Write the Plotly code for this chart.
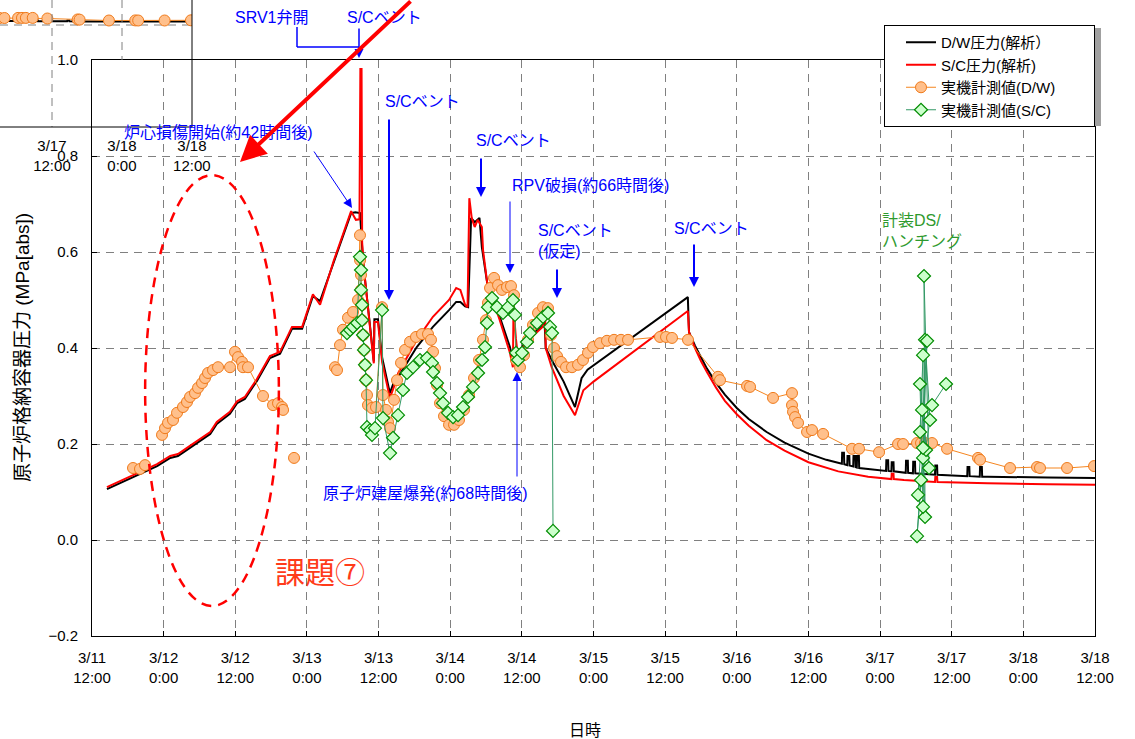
import plotly.graph_objects as go

# ---- time axis: hours since 3/11 12:00 ----
tick_hours = [0, 12, 24, 36, 48, 60, 72, 84, 96, 108, 120, 132, 144, 156, 168]
tick_labels = ["3/11<br>12:00", "3/12<br>0:00", "3/12<br>12:00", "3/13<br>0:00",
               "3/13<br>12:00", "3/14<br>0:00", "3/14<br>12:00", "3/15<br>0:00",
               "3/15<br>12:00", "3/16<br>0:00", "3/16<br>12:00", "3/17<br>0:00",
               "3/17<br>12:00", "3/18<br>0:00", "3/18<br>12:00"]
y_ticks = [-0.2, 0.0, 0.2, 0.4, 0.6, 0.8, 1.0]

# ---- D/W pressure (analysis) ----
dw_calc_t = [2.5, 4.7, 7.2, 9.7, 10.9, 13.1, 14.4, 16.4, 17.6, 19.8, 20.9, 23.1, 24.3, 25.6,
             27.6, 29.8, 31.5, 33.5, 35.2, 37.0, 38.2, 40.5, 43.4, 44.1, 44.9, 45.1, 45.4,
             46.1, 46.9, 47.2, 47.3, 47.9, 48.6, 49.9, 50.6, 51.3, 54.4, 57.1, 59.8, 61.0,
             61.7, 62.5, 63.0, 63.5, 64.1, 64.9, 65.3, 66.2, 68.3, 70.0, 70.5, 72.5, 75.5,
             75.8, 76.0, 77.0, 79.0, 80.9, 82.0, 83.0, 99.8, 100.0, 101.0, 102.0, 103.0,
             104.5, 106.0, 108.0, 110.0, 113.0, 116.0, 120.0, 123.0,
             125.6, 125.65, 125.95, 126.0, 126.5, 126.55, 126.85, 126.9,
             127.5, 127.55, 127.85, 127.9, 128.1, 128.15, 128.45, 128.5, 130.0,
             133.0, 133.05, 133.35, 133.4, 133.9, 133.95, 134.25, 134.3,
             136.3, 136.35, 136.65, 136.7, 137.5, 137.55, 137.85, 137.9,
             141.2, 141.25, 141.55, 141.6, 146.6, 146.65, 146.95, 147.0,
             148.7, 148.75, 149.05, 149.1, 150.0, 160.0, 168.0]
dw_calc_v = [0.106, 0.119, 0.133, 0.148, 0.154, 0.171, 0.175, 0.192, 0.202, 0.221, 0.242,
             0.263, 0.285, 0.294, 0.331, 0.379, 0.388, 0.440, 0.440, 0.508, 0.498, 0.578,
             0.681, 0.683, 0.681, 0.640, 0.580, 0.500, 0.400, 0.372, 0.460, 0.460, 0.380,
             0.306, 0.330, 0.340, 0.402, 0.444, 0.479, 0.496, 0.496, 0.487, 0.485, 0.671,
             0.662, 0.671, 0.610, 0.535, 0.465, 0.402, 0.375, 0.410, 0.450, 0.455, 0.400,
             0.375, 0.330, 0.277, 0.337, 0.355, 0.506, 0.433, 0.405, 0.380, 0.357,
             0.328, 0.303, 0.275, 0.252, 0.225, 0.203, 0.180, 0.167,
             0.159, 0.182, 0.182, 0.158, 0.156, 0.175, 0.175, 0.155,
             0.153, 0.175, 0.175, 0.152, 0.151, 0.175, 0.175, 0.150, 0.148,
             0.144, 0.166, 0.166, 0.144, 0.143, 0.162, 0.162, 0.143,
             0.140, 0.165, 0.165, 0.140, 0.139, 0.163, 0.163, 0.139,
             0.136, 0.155, 0.155, 0.136, 0.133, 0.152, 0.152, 0.133,
             0.132, 0.152, 0.152, 0.132, 0.132, 0.130, 0.129]

# ---- S/C pressure (analysis) ----
sc_calc_t = [2.5, 4.7, 7.2, 9.7, 10.9, 13.1, 14.4, 16.4, 17.6, 19.8, 20.9, 23.1, 24.3, 25.6,
             27.6, 29.8, 31.5, 33.5, 35.2, 37.0, 38.2, 40.5, 43.4, 44.2, 44.8, 44.95, 45.15,
             45.25, 45.5, 46.1, 46.9, 47.2, 47.3, 47.9, 48.6, 49.9, 50.6, 51.3, 54.4, 57.1,
             59.8, 61.0, 61.7, 62.5, 62.9, 63.2, 63.6, 64.1, 64.6, 65.3, 65.5, 66.2, 68.3,
             70.0, 70.5, 70.6, 71.0, 71.4, 72.5, 75.5, 75.6, 75.9, 76.0, 77.0, 79.0, 80.9,
             82.3, 84.0, 99.8, 100.0, 101.0, 102.0, 103.0, 104.5, 106.0, 108.0, 110.0,
             113.0, 116.0, 120.0, 125.0, 130.0, 133.9, 133.95, 134.25, 134.3, 136.0,
             141.2, 141.25, 141.55, 141.6, 150.0, 160.0, 168.0]
sc_calc_v = [0.110, 0.123, 0.137, 0.152, 0.158, 0.175, 0.179, 0.196, 0.206, 0.225, 0.246,
             0.267, 0.289, 0.298, 0.335, 0.383, 0.392, 0.444, 0.444, 0.512, 0.490, 0.582,
             0.685, 0.667, 0.668, 0.981, 0.981, 0.620, 0.570, 0.500, 0.400, 0.368, 0.454,
             0.454, 0.370, 0.296, 0.320, 0.348, 0.417, 0.465, 0.500, 0.525, 0.521, 0.490,
             0.485, 0.712, 0.671, 0.652, 0.667, 0.652, 0.604, 0.535, 0.458, 0.390, 0.360,
             0.485, 0.420, 0.375, 0.410, 0.444, 0.470, 0.470, 0.400, 0.360, 0.300, 0.260,
             0.312, 0.330, 0.477, 0.433, 0.400, 0.373, 0.350, 0.318, 0.290, 0.262, 0.238,
             0.208, 0.186, 0.162, 0.143, 0.132, 0.127, 0.138, 0.138, 0.127, 0.125,
             0.121, 0.131, 0.131, 0.121, 0.118, 0.116, 0.115]

# ---- D/W pressure (plant measurement) ----
dw_meas_t = [6.87, 8.04, 8.88, None,
             11.73, 12.23, 12.73, 13.57, 14.24, 15.24, 15.91, 16.42, 17.25, 17.76, 18.43,
             18.93, 19.43, 20.27, 21.11, 23.12, 23.95, 24.46, 25.13, 25.29, 26.13, 28.64,
             30.32, 31.16, 31.83, 32.0, None, 33.84, None,
             40.70, 41.04, 41.54, 42.04, 42.88, 43.72, 44.56, 44.89, 44.9, 45.06, 45.06,
             45.23, 45.23, 45.39, 45.56, 45.73, 45.90, 46.06, 46.23, 46.9, 47.57, 48.58,
             48.74, 49.25, 49.58, 49.92, 50.59, 51.09, 51.76, 52.43, 53.27, 54.27, 55.28,
             56.28, 56.78, 57.12, 57.45, 57.79, 58.29, 58.96, 59.80, 60.64, 61.47, 62.31,
             63.15, 63.99, 64.82, 65.49, 65.99, 66.33, 66.67, 67.34, 68.01, 68.68, 69.51,
             70.18, 70.69, 71.02, 71.69, 72.36, 73.03, 73.87, 74.71, 75.54, 76.38, 76.88,
             77.39, 77.89, 78.56, 79.4, 80.4, 81.41, 82.24, 83.08, 83.92, 85.09, 86.26,
             87.44, 88.61, 89.78, 95.14, 96.15, 97.15, 99.83, 104.86, 105.19, 109.72,
             110.22, 114.07, 117.25, 117.25, 117.42, 117.76, 118.26, 119.77, 120.6, 122.45,
             127.30, 128.48, 131.83, 135.01, 135.85, 138.19, 138.86, 139.53, 140.70, 143.22,
             148.41, 148.74, 153.77, 158.29, 158.79, 163.32, 167.84]
dw_meas_v = [0.150, 0.148, 0.156, None,
             0.219, 0.233, 0.244, 0.250, 0.265, 0.277, 0.2875, 0.298, 0.306, 0.317, 0.327,
             0.3375, 0.348, 0.354, 0.360, 0.360, 0.392, 0.381, 0.371, 0.360, 0.360, 0.300,
             0.281, 0.285, 0.277, 0.271, None, 0.171, None,
             0.360, 0.354, 0.406, 0.438, 0.463, 0.475, 0.500, 0.635, 0.583, 0.552, 0.521,
             0.490, 0.458, 0.427, 0.396, 0.365, 0.333, 0.302, 0.281, 0.275, 0.277, 0.485,
             0.302, 0.271, 0.246, 0.233, 0.292, 0.333, 0.369, 0.396, 0.413, 0.423, 0.429,
             0.429, 0.417, 0.392, 0.358, 0.323, 0.285, 0.258, 0.240, 0.240, 0.250, 0.271,
             0.302, 0.3375, 0.375, 0.417, 0.458, 0.494, 0.525, 0.546, 0.531, 0.521, 0.527,
             0.529, 0.510, 0.375, 0.360, 0.385, 0.417, 0.448, 0.473, 0.485, 0.483, 0.427,
             0.400, 0.383, 0.371, 0.360, 0.360, 0.365, 0.375, 0.390, 0.402, 0.410, 0.415,
             0.417, 0.417, 0.417, 0.423, 0.423, 0.421, 0.417, 0.340, 0.333, 0.321,
             0.319, 0.296, 0.306, 0.281, 0.267, 0.256, 0.244, 0.225, 0.229, 0.221,
             0.190, 0.190, 0.183, 0.200, 0.200, 0.202, 0.202, 0.202, 0.202, 0.190,
             0.171, 0.167, 0.150, 0.152, 0.150, 0.150, 0.154]

# ---- S/C pressure (plant measurement) ----
sc_meas_t = [42.71, 43.22, 43.72, 44.39, 44.89, 45.06, 45.06, 45.23, 45.23, 45.39, 45.56,
             45.73, 45.90, 46.06, 46.57, 46.90, 47.40, 48.58, 48.74, 49.92, 50.42, 51.26,
             52.09, 52.76, 53.77, 54.94, 56.11, 56.95, 57.12, 57.79, 58.29, 58.79, 59.63,
             60.47, 61.31, 62.14, 62.98, 63.82, 64.66, 65.33, 65.83, 66.16, 66.33, 67.0,
             67.84, 68.84, 69.68, 70.52, 70.85, 71.02, 71.36, 72.03, 72.86, 73.37, 74.54,
             75.54, 76.38, 76.72, 77.05, 77.22, None,
             138.86, 138.19, 139.2, 139.53, 139.36, 140.2, 139.03, 139.7, 138.69, 139.2,
             139.53, 140.37, 138.36, 139.87, 139.2, 139.2, 138.69, 140.7, 143.05]
sc_meas_v = [0.431, 0.4375, 0.444, 0.452, 0.590, 0.5625, 0.521, 0.490, 0.458, 0.427, 0.396,
             0.365, 0.333, 0.235, 0.229, 0.219, 0.233, 0.479, 0.254, 0.181, 0.213, 0.260,
             0.3125, 0.348, 0.360, 0.375, 0.379, 0.369, 0.350, 0.327, 0.306, 0.285, 0.265,
             0.256, 0.260, 0.277, 0.298, 0.319, 0.348, 0.375, 0.402, 0.452, 0.485, 0.504,
             0.485, 0.473, 0.485, 0.500, 0.469, 0.390, 0.375, 0.390, 0.4125, 0.431, 0.452,
             0.465, 0.473, 0.444, 0.431, 0.019, None,
             0.125, 0.008, 0.171, 0.048, 0.550, 0.150, 0.271, 0.1875, 0.325, 0.069,
             0.417, 0.250, 0.094, 0.415, 0.192, 0.385, 0.225, 0.281, 0.325]

W, H = 1135, 739
FONT = "Liberation Sans, Arial, Noto Sans CJK JP, sans-serif"
BLUE = "#0000FF"
PAD = "\u00a0" * 8   # widens the legend box to the right


def fx(p):
    return p / W


def fy(p):
    return 1 - p / H


fig = go.Figure()

fig.add_trace(go.Scatter(x=dw_calc_t, y=dw_calc_v, mode="lines", name="D/W圧力(解析）",
                         line=dict(color="black", width=2)))
fig.add_trace(go.Scatter(x=sc_calc_t, y=sc_calc_v, mode="lines", name="S/C圧力(解析)",
                         line=dict(color="#FF0000", width=2)))
fig.add_trace(go.Scatter(x=dw_meas_t, y=dw_meas_v, mode="lines+markers", name="実機計測値(D/W)" + PAD,
                         line=dict(color="#F5851F", width=1),
                         marker=dict(symbol="circle", size=11, color="#FFC08C",
                                     line=dict(color="#F07A1A", width=1))))
fig.add_trace(go.Scatter(x=sc_meas_t, y=sc_meas_v, mode="lines+markers", name="実機計測値(S/C)",
                         line=dict(color="#339966", width=1),
                         marker=dict(symbol="diamond", size=10, color="#CCFFCC",
                                     line=dict(color="#008C00", width=1.2))))

# small overview panel in the top-left corner (last day, compressed scale)
ins_dw_t = [t for t in dw_calc_t if t >= 134]
ins_dw_v = [v for t, v in zip(dw_calc_t, dw_calc_v) if t >= 134]
ins_ms_t = [t for t in dw_meas_t if t is not None and t >= 134]
ins_ms_v = [v for t, v in zip(dw_meas_t, dw_meas_v) if t is not None and t >= 134]
fig.add_trace(go.Scatter(x=ins_dw_t, y=ins_dw_v, mode="lines", showlegend=False,
                         line=dict(color="black", width=2), xaxis="x2", yaxis="y2"))
fig.add_trace(go.Scatter(x=ins_ms_t, y=ins_ms_v, mode="lines+markers", showlegend=False,
                         line=dict(color="#F5851F", width=1),
                         marker=dict(symbol="circle", size=11, color="#FFC08C",
                                     line=dict(color="#F07A1A", width=1)),
                         xaxis="x2", yaxis="y2"))

grid = dict(showgrid=True, gridcolor="#808080", gridwidth=1, griddash="8px,6px")

fig.update_layout(
    width=W, height=H, autosize=False,
    margin=dict(l=0, r=0, t=0, b=0, pad=0, autoexpand=False),
    paper_bgcolor="white", plot_bgcolor="rgba(0,0,0,0)",
    font=dict(family=FONT, size=15, color="black"),
    xaxis=dict(domain=[fx(92), fx(1095)], range=[0, 168], tickvals=tick_hours,
               ticktext=tick_labels, ticks="inside", ticklen=5, tickcolor="black",
               showline=True, linecolor="black", linewidth=1, mirror=True,
               zeroline=False, ticklabelstandoff=8, **grid),
    yaxis=dict(domain=[fy(636), fy(60)], range=[-0.2, 1.0], tickvals=y_ticks,
               tickformat=".1f", ticks="inside", ticklen=5, tickcolor="black",
               showline=True, linecolor="black",
               linewidth=1, mirror=True, zeroline=False, ticklabelstandoff=10, **grid),
    xaxis2=dict(domain=[0, fx(192)], range=[135.09, 168.02], anchor="y2",
                tickvals=[144, 156, 168], ticktext=["3/17<br>12:00", "3/18<br>0:00", "3/18<br>12:00"],
                showgrid=False, zeroline=False, showline=False, ticks="", ticklabelstandoff=8),
    yaxis2=dict(domain=[fy(127), 1], range=[-1.98, 0.56], anchor="x2", showgrid=False,
                zeroline=False, showline=False, showticklabels=False, ticks=""),
    legend=dict(x=fx(884), y=fy(25), xanchor="left", yanchor="top", bgcolor="white",
                bordercolor="black", borderwidth=1, font=dict(size=15), indentation=16,
                tracegroupgap=0),
    showlegend=True,
)

shapes = []
# overview panel grid and frame
shapes.append(dict(type="line", xref="paper", yref="paper", x0=fx(52), x1=fx(52), y0=1, y1=fy(127),
                   line=dict(color="#808080", width=1, dash="8px,6px")))
shapes.append(dict(type="line", xref="paper", yref="paper", x0=fx(122), x1=fx(122), y0=1, y1=fy(60),
                   line=dict(color="#808080", width=1, dash="8px,6px")))
shapes.append(dict(type="line", xref="paper", yref="paper", x0=0, x1=fx(192), y0=fy(25), y1=fy(25),
                   line=dict(color="#808080", width=1, dash="8px,6px"), layer="below"))
shapes.append(dict(type="line", xref="paper", yref="paper", x0=fx(192), x1=fx(192), y0=1, y1=fy(127),
                   line=dict(color="black", width=1)))
shapes.append(dict(type="line", xref="paper", yref="paper", x0=0, x1=fx(192), y0=fy(127), y1=fy(127),
                   line=dict(color="black", width=1)))
# legend shadow
shapes.append(dict(type="rect", xref="paper", yref="paper", x0=fx(887), x1=fx(1101), y0=fy(28), y1=fy(126),
                   line=dict(width=0), fillcolor="#A0A0A0"))
# SRV bracket
shapes.append(dict(type="line", xref="paper", yref="paper", x0=fx(297), x1=fx(297), y0=fy(27), y1=fy(47),
                   line=dict(color=BLUE, width=1.5)))
shapes.append(dict(type="line", xref="paper", yref="paper", x0=fx(297), x1=fx(359), y0=fy(47), y1=fy(47),
                   line=dict(color=BLUE, width=1.5)))
# red dashed ellipse around the early D/W measurements
shapes.append(dict(type="circle", xref="x", yref="y", x0=8.9, x1=31.3, y0=-0.1375, y1=0.76,
                   line=dict(color="#FF0000", width=2.5, dash="10px,7px")))
fig.update_layout(shapes=shapes)

ann = []


def text(x, y, s, color=BLUE, size=16, xanchor="center", align="center"):
    ann.append(dict(x=fx(x), y=fy(y), xref="paper", yref="paper", text=s, showarrow=False,
                    font=dict(color=color, size=size, family=FONT), xanchor=xanchor,
                    yanchor="middle", align=align))


def arrow(hx, hy, tx, ty, color=BLUE, width=1.5, size=1.2):
    ann.append(dict(x=fx(hx), y=fy(hy), xref="paper", yref="paper", text="", showarrow=True,
                    ax=tx - hx, ay=ty - hy, axref="pixel", ayref="pixel",
                    arrowhead=2, arrowsize=size, arrowwidth=width, arrowcolor=color,
                    font=dict(size=1)))


text(272, 18, "SRV1弁開")
text(384, 18, "S/Cベント")
text(422, 101, "S/Cベント")
text(513, 140, "S/Cベント")
text(590, 185, "RPV破損(約66時間後)")
text(536, 241, "S/Cベント<br>(仮定)", xanchor="left", align="left")
text(712, 228, "S/Cベント")
text(218, 132, "炉心損傷開始(約42時間後)")
text(425, 493, "原子炉建屋爆発(約68時間後)")
text(880, 231, "計装DS/<br>ハンチング", color="#2E9A2E", xanchor="left", align="left")
text(320, 572, "課題⑦", color="#FF3B1A", size=30)
text(585, 730, "日時", color="black", size=16)
ann.append(dict(x=fx(22), y=fy(348), xref="paper", yref="paper", text="原子炉格納容器圧力 (MPa[abs])",
                showarrow=False, textangle=-90, font=dict(size=19, color="black", family=FONT),
                xanchor="center", yanchor="middle"))

arrow(359, 58, 359, 27, width=1.5)
arrow(389, 300, 389, 118, width=2, size=1.0)
arrow(481, 197, 481, 157, width=2, size=1.0)
arrow(510, 273, 510, 200, width=1, size=1.8)
arrow(557, 298, 557, 268, width=2, size=1.0)
arrow(694, 287, 694, 243, width=2, size=1.0)
arrow(352, 208, 313, 150, width=1, size=1.8)
arrow(517, 372, 517, 478, width=1, size=1.8)
arrow(240, 162, 412, -5, color="#FF0000", width=4, size=1.3)

fig.update_layout(annotations=ann)
fig.write_html("out.html")
